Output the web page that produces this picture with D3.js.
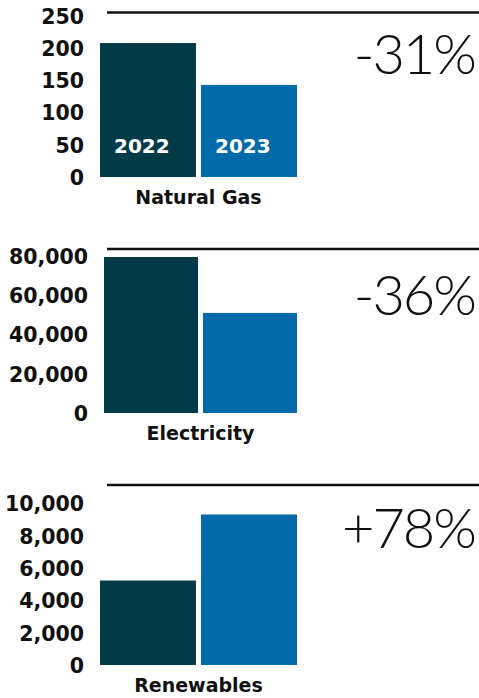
<!DOCTYPE html>
<html>
<head>
<meta charset="utf-8">
<script src="https://cdn.jsdelivr.net/npm/d3@7"></script>
<style>
  html, body { margin: 0; padding: 0; background: #fff; }
  svg { display: block; }
</style>
</head>
<body>
<div id="chart"></div>
<script>
const categories = ['Natural Gas', 'Electricity', 'Renewables'];
const years = ['2022', '2023'];
const values2022 = [208, 79500, 5230];
const values2023 = [143, 51000, 9320];
const changes = ['-31%', '-36%', '+78%'];
const tickValues = [
    [0, 50, 100, 150, 200, 250],
    [0, 20000, 40000, 60000, 80000],
    [0, 2000, 4000, 6000, 8000, 10000]
];

const colors = { '2022': '#033a48', '2023': '#016aa8' };

// per-panel layout: rule line, baseline, top tick position, left edge of bars, percent baseline
const panels = [
    { rule: 12.5, base: 177, top: 16, left: 100, pct: 73.5 },
    { rule: 249, base: 413, top: 256, left: 104, pct: 315 },
    { rule: 485, base: 665, top: 503.5, left: 100, pct: 548 }
];

const width = 479, height = 698;
const svg = d3.select('#chart').append('svg')
    .attr('width', width)
    .attr('height', height);

categories.forEach((cat, i) => {
    const p = panels[i];
    const ticks = tickValues[i];
    const data = [
        { year: years[0], value: values2022[i] },
        { year: years[1], value: values2023[i] }
    ];

    const g = svg.append('g');

    const y = d3.scaleLinear()
        .domain([0, d3.max(ticks)])
        .range([p.base, p.top]);

    const x = d3.scaleBand()
        .domain(years)
        .range([p.left, 297])
        .paddingInner(0.05)
        .paddingOuter(0);

    // top rule
    g.append('line')
        .attr('x1', 107).attr('x2', width)
        .attr('y1', p.rule).attr('y2', p.rule)
        .attr('stroke', '#111')
        .attr('stroke-width', 2.5);

    // y axis labels
    const axis = d3.axisLeft(y)
        .tickValues(ticks)
        .tickSize(0)
        .tickPadding(0)
        .tickFormat(d3.format(','));

    const ag = g.append('g')
        .attr('transform', `translate(${p.left - 16},0)`)
        .call(axis);
    ag.select('.domain').remove();
    ag.selectAll('text')
        .attr('font-family', 'DejaVu Sans')
        .attr('font-weight', 'bold')
        .attr('font-size', 20.5)
        .attr('fill', '#111')
        .attr('dy', '0.36em');

    // bars
    g.selectAll('.bar')
        .data(data)
        .enter().append('rect')
        .attr('class', 'bar')
        .attr('x', d => x(d.year))
        .attr('y', d => y(d.value))
        .attr('width', x.bandwidth())
        .attr('height', d => y(0) - y(d.value))
        .attr('fill', d => colors[d.year]);

    // year labels only in first panel
    if (i === 0) {
        g.selectAll('.year-label')
            .data(data)
            .enter().append('text')
            .attr('class', 'year-label')
            .attr('x', d => x(d.year) + 14)
            .attr('y', p.base - 24)
            .attr('font-family', 'DejaVu Sans')
            .attr('font-weight', 'bold')
            .attr('font-size', 20)
            .attr('fill', '#fff')
            .text(d => d.year);
    }

    // category label
    g.append('text')
        .attr('x', (p.left + 297) / 2)
        .attr('y', p.base + 27)
        .attr('text-anchor', 'middle')
        .attr('font-family', 'DejaVu Sans')
        .attr('font-weight', 'bold')
        .attr('font-size', 19)
        .attr('fill', '#111')
        .text(cat);

    // percent change
    g.append('text')
        .attr('x', 475)
        .attr('y', p.pct)
        .attr('text-anchor', 'end')
        .attr('font-family', 'Lato')
        .attr('font-weight', 300)
        .attr('font-size', 56)
        .attr('letter-spacing', -2)
        .attr('fill', '#111')
        .text(changes[i]);
});
</script>
</body>
</html>
